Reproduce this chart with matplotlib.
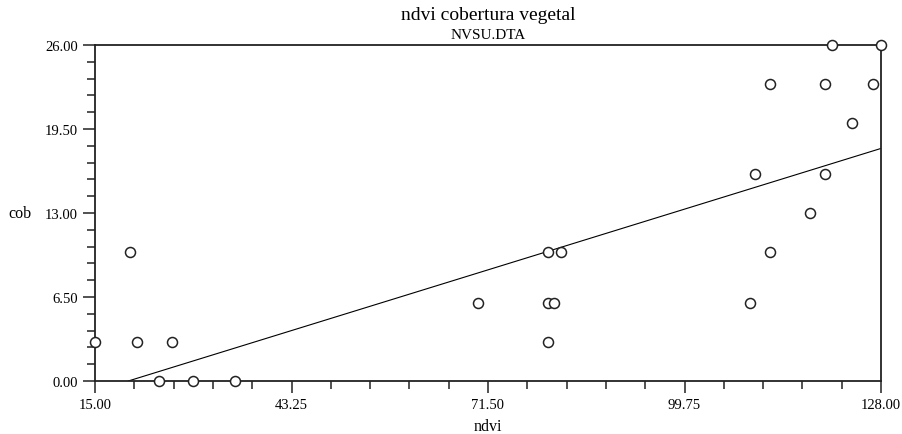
import matplotlib
matplotlib.use("Agg")
import matplotlib.pyplot as plt
import numpy as np
from matplotlib.ticker import FixedLocator, FormatStrFormatter, AutoMinorLocator

ndvi = [15, 20, 21.1, 24.2, 26.1, 29.1, 35.1, 70.1, 80.1, 80.1, 80.1, 81.0, 82.0,
        109.1, 109.9, 112.1, 112.1, 117.8, 120.0, 120.0, 120.9, 123.9, 126.9, 128.0]
cob = [3, 10, 3, 0, 3, 0, 0, 6, 10, 6, 3, 6, 10,
       6, 16, 23, 10, 13, 23, 16, 26, 20, 23, 26]

fit_slope = 0.1663
fit_intercept = -3.29

x_ticks = [15.00, 43.25, 71.50, 99.75, 128.00]
y_ticks = [0.00, 6.50, 13.00, 19.50, 26.00]

title = "ndvi cobertura vegetal"
subtitle = "NVSU.DTA"
xlabel = "ndvi"
ylabel = "cob"

plt.rcParams['font.family'] = ['Liberation Serif', 'DejaVu Serif']

W, H = 902, 435
fig = plt.figure(figsize=(W / 100, H / 100), dpi=100)
L, R, T, B = 95, 881, 46, 382
ax = fig.add_axes([L / W, 1 - B / H, (R - L) / W, (B - T) / H])

ax.set_xlim(x_ticks[0], x_ticks[-1])
ax.set_ylim(y_ticks[0], y_ticks[-1])

# regression line
x0 = -fit_intercept / fit_slope
xs = np.array([x0, x_ticks[-1]])
ax.plot(xs, fit_intercept + fit_slope * xs, color='black', lw=0.8, zorder=2)

ax.plot(ndvi, cob, linestyle='none', marker='o', markersize=7.2,
        markerfacecolor='white', markeredgecolor='#222222', markeredgewidth=1.1,
        clip_on=False, zorder=3)

ax.xaxis.set_major_locator(FixedLocator(x_ticks))
ax.yaxis.set_major_locator(FixedLocator(y_ticks))
ax.xaxis.set_minor_locator(AutoMinorLocator(5))
ax.yaxis.set_minor_locator(AutoMinorLocator(5))
ax.xaxis.set_major_formatter(FormatStrFormatter('%.2f'))
ax.yaxis.set_major_formatter(FormatStrFormatter('%.2f'))
ax.tick_params(which='major', direction='out', length=8.5, width=1.1,
               labelsize=10.5, pad=4, color='#222222')
ax.tick_params(which='minor', direction='out', length=5.5, width=1.1, color='#222222')

for s in ax.spines.values():
    s.set_linewidth(1.3)
    s.set_color('#222222')

ax.set_xlabel(xlabel, fontsize=11.5, labelpad=5)
ax.set_ylabel(ylabel, fontsize=11.5, rotation=0, va='center', ha='center')
ax.yaxis.set_label_coords(-(L - 20) / (R - L), 13 / 26)

fig.text((L + R) / 2 / W, 1 - 15 / H, title, ha='center', va='center', fontsize=14)
fig.text((L + R) / 2 / W, 1 - 36 / H, subtitle, ha='center', va='center', fontsize=11)

fig.savefig("out.png", dpi=100)
